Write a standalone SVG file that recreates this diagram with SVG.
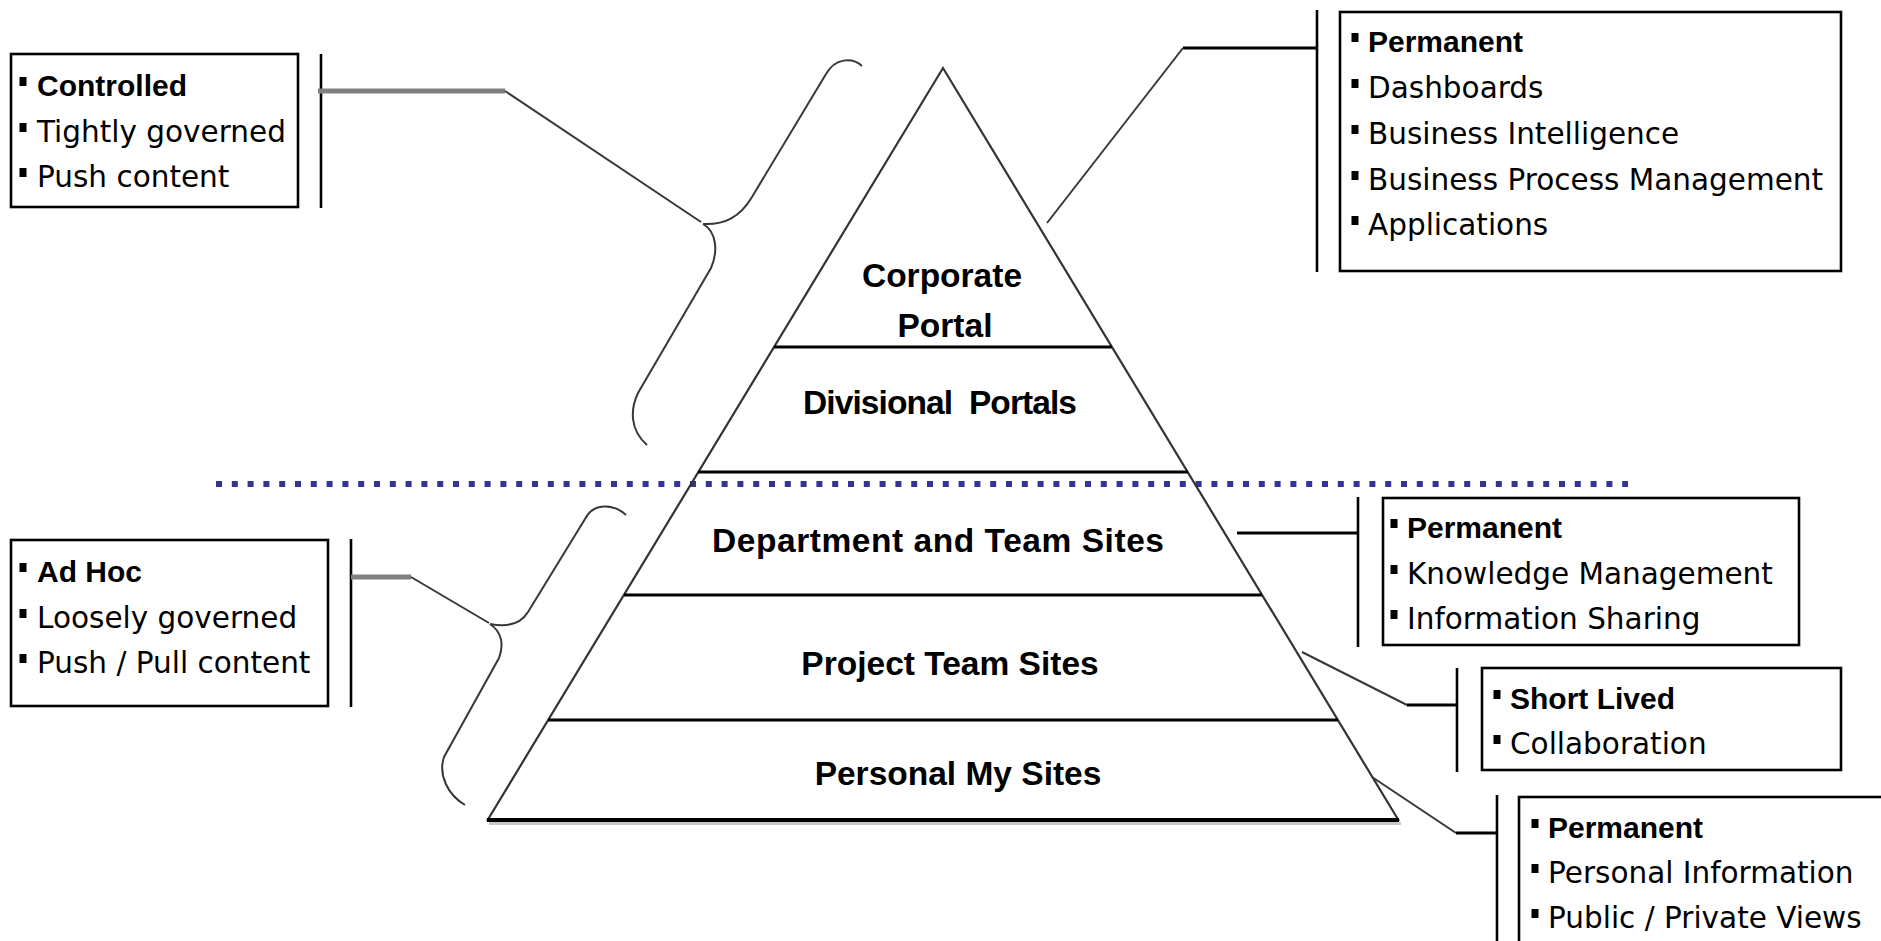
<svg xmlns="http://www.w3.org/2000/svg" width="1881" height="941" viewBox="0 0 1881 941">
<style>
  .box{fill:#fff;stroke:#000;stroke-width:2.6}
  .bar{stroke:#000;stroke-width:2.6;fill:none}
  .blk{stroke:#000;stroke-width:3;fill:none}
  .thick{stroke:#808080;stroke-width:5;fill:none}
  .thin{stroke:#383838;stroke-width:2;fill:none}
  .tri{stroke:#333;stroke-width:2.2;fill:none}
  .lvl{stroke:#000;stroke-width:3.2;fill:none}
  .reg{font-family:"DejaVu Sans",Verdana,sans-serif;font-size:29.5px;fill:#000}
  .bld{font-family:"Liberation Sans",Arial,sans-serif;font-weight:bold;font-size:30px;fill:#000}
  .lab{font-family:"Liberation Sans",Arial,sans-serif;font-weight:bold;font-size:33.5px;fill:#000;text-anchor:middle}
  .bul{fill:#000}
</style>
<rect width="1881" height="941" fill="#fff"/>

<g id="divider">
  <line x1="216" y1="484" x2="1628" y2="484" stroke="#333399" stroke-width="6" stroke-dasharray="6 9.8"/>
</g>

<g id="pyramid">
  <line x1="489" y1="823.5" x2="1401" y2="823.5" stroke="#c8c8c8" stroke-width="3"/>
  <polyline class="tri" points="487,821 943,68 1399,821"/>
  <line class="lvl" x1="774" y1="347" x2="1112" y2="347"/>
  <line class="lvl" x1="698" y1="472" x2="1188" y2="472"/>
  <line class="lvl" x1="624" y1="595" x2="1262" y2="595"/>
  <line class="lvl" x1="548" y1="720" x2="1338" y2="720"/>
  <line x1="487" y1="820" x2="1399" y2="820" stroke="#000" stroke-width="4"/>
  <text class="lab" x="942" y="287">Corporate</text>
  <text class="lab" x="945" y="337">Portal</text>
  <text class="lab" x="940" y="414" xml:space="preserve" textLength="274">Divisional  Portals</text>
  <text class="lab" x="938" y="552" textLength="452">Department and Team Sites</text>
  <text class="lab" x="950" y="675">Project Team Sites</text>
  <text class="lab" x="958" y="785">Personal My Sites</text>
</g>

<g id="braces">
  <path class="thin" d="M 862 66 C 852 57 835 58 826 74 L 752 197 C 740 217 725 225 703 224"/>
  <path class="thin" d="M 703 224 C 717 232 718 252 711 268 L 638 393 C 630 410 630 430 647 445"/>
  <path class="thin" d="M 626 515 C 613 503 593 503 585 519 L 528 612 C 520 625 505 627 490 624"/>
  <path class="thin" d="M 490 624 C 502 632 504 645 499 658 L 444 757 C 438 775 448 795 465 805"/>
</g>

<g id="connectors">
  <line class="bar" x1="321" y1="54" x2="321" y2="208"/>
  <line class="thick" x1="318" y1="91" x2="505" y2="91"/>
  <line class="thin" x1="505" y1="91" x2="701" y2="222"/>

  <line class="bar" x1="351" y1="539" x2="351" y2="707"/>
  <line class="thick" x1="351" y1="577" x2="411" y2="577"/>
  <line class="thin" x1="411" y1="577" x2="489" y2="623"/>

  <line class="bar" x1="1317" y1="10" x2="1317" y2="272"/>
  <line class="blk" x1="1183" y1="48" x2="1317" y2="48"/>
  <line class="thin" x1="1183" y1="48" x2="1047" y2="223"/>

  <line class="bar" x1="1358" y1="497" x2="1358" y2="647"/>
  <line class="blk" x1="1237" y1="533" x2="1358" y2="533"/>

  <line class="bar" x1="1457" y1="668" x2="1457" y2="772"/>
  <polyline class="thin" points="1302,652 1407,705"/>
  <line class="blk" x1="1407" y1="705" x2="1457" y2="705"/>

  <line class="bar" x1="1497" y1="795" x2="1497" y2="945"/>
  <polyline class="thin" points="1372,777 1456,833"/>
  <line class="blk" x1="1456" y1="833" x2="1497" y2="833"/>
</g>

<g id="box-controlled">
  <rect class="box" x="11" y="54" width="287" height="153"/>
  <rect class="bul" x="19.5" y="77" width="7" height="9"/>
  <text class="bld" x="37" y="96">Controlled</text>
  <rect class="bul" x="19.5" y="123" width="7" height="9"/>
  <text class="reg" x="37" y="142">Tightly governed</text>
  <rect class="bul" x="19.5" y="168" width="7" height="9"/>
  <text class="reg" x="37" y="187">Push content</text>
</g>

<g id="box-adhoc">
  <rect class="box" x="11" y="540" width="317" height="166"/>
  <rect class="bul" x="19.5" y="563" width="7" height="9"/>
  <text class="bld" x="37" y="582">Ad Hoc</text>
  <rect class="bul" x="19.5" y="609" width="7" height="9"/>
  <text class="reg" x="37" y="628">Loosely governed</text>
  <rect class="bul" x="19.5" y="654" width="7" height="9"/>
  <text class="reg" x="37" y="673">Push / Pull content</text>
</g>

<g id="box-corporate">
  <rect class="box" x="1340" y="12" width="501" height="259"/>
  <rect class="bul" x="1351.5" y="33" width="7" height="9"/>
  <text class="bld" x="1368" y="52">Permanent</text>
  <rect class="bul" x="1351.5" y="79" width="7" height="9"/>
  <text class="reg" x="1368" y="98">Dashboards</text>
  <rect class="bul" x="1351.5" y="125" width="7" height="9"/>
  <text class="reg" x="1368" y="144">Business Intelligence</text>
  <rect class="bul" x="1351.5" y="171" width="7" height="9"/>
  <text class="reg" x="1368" y="190">Business Process Management</text>
  <rect class="bul" x="1351.5" y="216" width="7" height="9"/>
  <text class="reg" x="1368" y="235">Applications</text>
</g>

<g id="box-department">
  <rect class="box" x="1383" y="498" width="416" height="147"/>
  <rect class="bul" x="1390.5" y="519" width="7" height="9"/>
  <text class="bld" x="1407" y="538">Permanent</text>
  <rect class="bul" x="1390.5" y="565" width="7" height="9"/>
  <text class="reg" x="1407" y="584">Knowledge Management</text>
  <rect class="bul" x="1390.5" y="610" width="7" height="9"/>
  <text class="reg" x="1407" y="629">Information Sharing</text>
</g>

<g id="box-project">
  <rect class="box" x="1482" y="668" width="359" height="102"/>
  <rect class="bul" x="1493.5" y="690" width="7" height="9"/>
  <text class="bld" x="1510" y="709">Short Lived</text>
  <rect class="bul" x="1493.5" y="735" width="7" height="9"/>
  <text class="reg" x="1510" y="754">Collaboration</text>
</g>

<g id="box-personal">
  <rect class="box" x="1519" y="797" width="380" height="170"/>
  <rect class="bul" x="1531.5" y="819" width="7" height="9"/>
  <text class="bld" x="1548" y="838">Permanent</text>
  <rect class="bul" x="1531.5" y="864" width="7" height="9"/>
  <text class="reg" x="1548" y="883">Personal Information</text>
  <rect class="bul" x="1531.5" y="909" width="7" height="9"/>
  <text class="reg" x="1548" y="928">Public / Private Views</text>
</g>
</svg>
